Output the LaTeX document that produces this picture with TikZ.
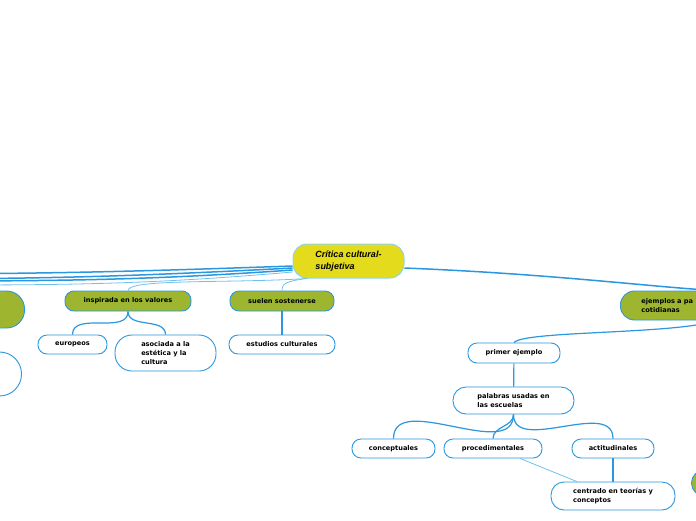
\documentclass[tikz,border=0pt]{standalone}
\usepackage{fontspec}
\setmainfont{DejaVu Sans}
\newfontfamily\rootfont{Liberation Sans}
\usepackage{tikz}
\usetikzlibrary{positioning}
\definecolor{CMBlue}  {HTML}{2A97DE}
\definecolor{CMLight} {HTML}{6EC1EE}
\definecolor{CMYellow}{HTML}{E4DB1C}
\definecolor{CMGreen} {HTML}{9EB62F}
\definecolor{CMRim}   {HTML}{8ED6E6}
\tikzset{
  rootbox/.style={fill=CMYellow,draw=CMRim,line width=1pt,rounded corners=14pt,
    align=left,font=\rootfont\fontsize{9}{12}\selectfont\bfseries\itshape},
  greenbox/.style={fill=CMGreen,draw=CMBlue,line width=0.9pt,rounded corners=9pt,
    align=left,font=\fontsize{6.6}{8.8}\selectfont\bfseries},
  whitebox/.style={fill=white,draw=CMBlue,line width=0.9pt,rounded corners=9pt,
    align=left,font=\fontsize{6.6}{8.8}\selectfont\bfseries},
  mainlink/.style={draw=CMBlue,line width=1.5pt},
  sublink/.style={draw=CMBlue,line width=1.2pt},
  thinlink/.style={draw=CMLight,line width=0.8pt}
}

\begin{document}
\begin{tikzpicture}[x=1pt,y=-1pt]
    \useasboundingbox (0,0) rectangle (696,520);
    % central topic
    \node[rootbox,minimum width=111pt,minimum height=34pt] (root) at (348.5,261)
      {Crítica cultural-\\subjetiva};
    % main branches
    \node[greenbox,minimum width=126pt,minimum height=20pt] (insp) at (128,301)
      {inspirada en los valores};
    \node[greenbox,minimum width=104pt,minimum height=20pt] (suel) at (282,301)
      {suelen sostenerse};
    \node[greenbox,rounded corners=18pt,minimum width=90pt,minimum height=37pt,
          anchor=east] (lgreen) at (25,309.5) {};
    \node[greenbox,text width=150pt,inner xsep=21pt,minimum height=29pt,
          rounded corners=14pt,anchor=west] (ejem) at (620,305.5)
      {ejemplos a pa\\cotidianas};
    \node[greenbox,rounded corners=13pt,minimum width=60pt,minimum height=26pt,
          anchor=west] (rgreen) at (691,483) {};
    % sub topics
    \node[whitebox,rounded corners=22pt,minimum width=90pt,minimum height=44pt,
          anchor=east] (lwhite) at (22,374) {};
    \node[whitebox,minimum width=69pt,minimum height=19pt] (euro) at (72.5,344.5)
      {europeos};
    \node[whitebox,rounded corners=17pt,minimum width=101pt,minimum height=36pt]
      (asoc) at (165.5,353) {asociada a la\\estética y la\\cultura};
    \node[whitebox,minimum width=106pt,minimum height=19pt] (estu) at (282,344.5)
      {estudios culturales};
    \node[whitebox,minimum width=92pt,minimum height=20pt] (prim) at (514,353)
      {primer ejemplo};
    \node[whitebox,rounded corners=13pt,minimum width=121pt,minimum height=27pt]
      (pala) at (513.5,400.5) {palabras usadas en\\las escuelas};
    \node[whitebox,minimum width=83pt,minimum height=19pt] (conc) at (393.5,448.5)
      {conceptuales};
    \node[whitebox,minimum width=98pt,minimum height=19pt] (proc) at (493,448.5)
      {procedimentales};
    \node[whitebox,minimum width=82pt,minimum height=19pt] (acti) at (613,448.5)
      {actitudinales};
    \node[whitebox,rounded corners=13pt,minimum width=124pt,minimum height=28pt]
      (cent) at (613,496) {centrado en teorías y\\conceptos};
    % branches leaving the picture on the left
    \coordinate (off1) at (-120,274);
    \coordinate (off2) at (-120,279);
    \coordinate (off3) at (-120,281);
    \coordinate (off4) at (-120,285);
    \draw[mainlink] ([yshift=-5pt]root.west) to[out=182,in=0] (off1);
    \draw[mainlink] ([yshift=-7pt]root.west) to[out=183,in=0] (off2);
    \draw[mainlink] ([yshift=-9pt]root.west) to[out=184,in=0] (off3);
    \draw[thinlink] ([yshift=-11pt]root.west) to[out=185,in=0] (off4);
    % connectors
    \draw[thinlink] ([xshift=-41pt]root.south) .. controls +(-80,5) and +(0,-12) .. (insp.north);
    \draw[thinlink] ([xshift=-43pt]root.south) .. controls +(-18,3) and +(0,-8) .. (suel.north);
    \draw[mainlink] ([yshift=-7pt]root.east) .. controls +(150,6) and +(-60,-3) .. (ejem.north);
    \draw[sublink] (insp.south) to[out=270,in=90] (euro.north);
    \draw[sublink] (insp.south) to[out=270,in=90] (asoc.north);
    \draw[sublink] (suel) -- (estu);
    \draw[sublink] (ejem.south) .. controls +(-40,14) and +(10,-12) .. (prim.north);
    \draw[sublink] (prim) -- (pala);
    \draw[sublink] (pala.south) to[out=270,in=90] (conc.north);
    \draw[sublink] (pala.south) to[out=270,in=90] (proc.north);
    \draw[sublink] (pala.south) to[out=270,in=90] (acti.north);
    \draw[sublink] (acti) -- (cent);
    \draw[thinlink] ([xshift=27pt]proc.south) -- ([xshift=-36pt]cent.north);
\end{tikzpicture}
\end{document}
